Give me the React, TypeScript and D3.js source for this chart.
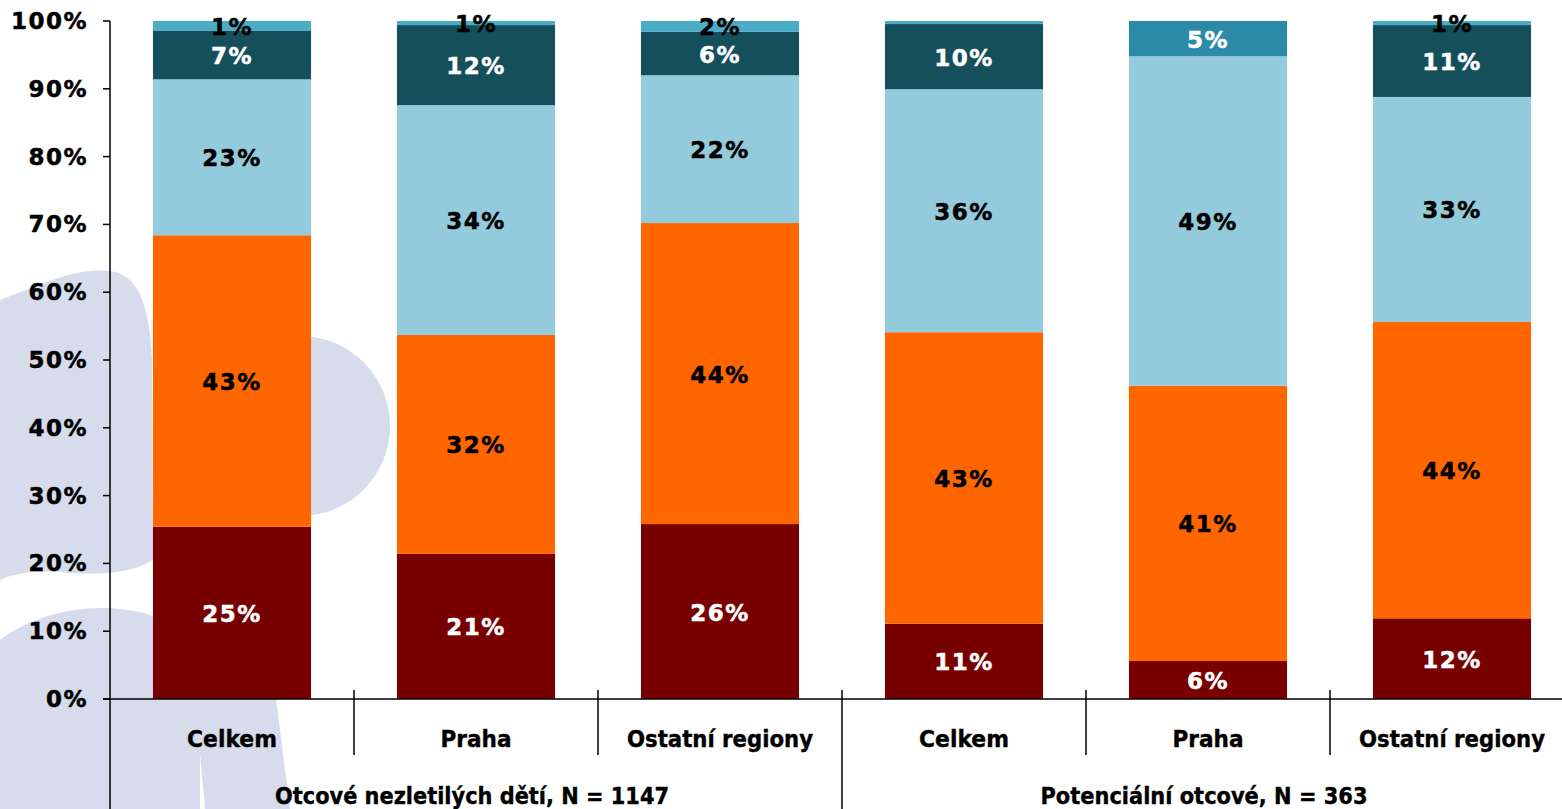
import React from "react";
import * as d3 from "d3";

const categories = ["Celkem", "Praha", "Ostatní regiony", "Celkem", "Praha", "Ostatní regiony"];
const groups = ["Otcové nezletilých dětí, N = 1147", "Potenciální otcové, N = 363"];
const seriesKeys = ["s1", "s2", "s3", "s4", "s5", "s6"];
const s1 = [25.4, 21.4, 25.8, 11.1, 5.6, 11.9];
const s2 = [43.0, 32.3, 44.4, 43.0, 40.6, 43.7];
const s3 = [23.0, 33.9, 21.8, 35.85, 48.6, 33.2];
const s4 = [7.2, 11.8, 6.4, 9.6, 0, 10.6];
const s5 = [0, 0, 0, 0, 5.2, 0];
const s6 = [1.4, 0.6, 1.6, 0.45, 0, 0.6];
const seriesValues = [s1, s2, s3, s4, s5, s6];
const seriesColors = ["#770000", "#FF6600", "#93CBDC", "#154F5C", "#2B8BA6", "#4BACC6"];
const labelColors = ["#ffffff", "#000000", "#000000", "#ffffff", "#ffffff", "#000000"];
const yTicks = [0, 10, 20, 30, 40, 50, 60, 70, 80, 90, 100];

const W = 1562;
const H = 809;
const FONT = "Verdana, 'DejaVu Sans', sans-serif";

export default function App() {
  const rows = categories.map((c, i) => {
    const r: any = { idx: String(i) };
    seriesKeys.forEach((k, j) => (r[k] = seriesValues[j][i]));
    return r;
  });
  const stacked = d3.stack().keys(seriesKeys)(rows);
  const x = d3
    .scaleBand<string>()
    .domain(categories.map((_, i) => String(i)))
    .range([110, 1574])
    .paddingInner(0.352)
    .paddingOuter(0.176);
  const step = x.step();
  const y = d3.scaleLinear().domain([0, 100]).range([699, 21]);
  const x0 = 110;

  return (
    <svg width={W} height={H} style={{ position: "absolute", left: 0, top: 0, background: "#fff" }}>
      {/* watermark */}
      <g fill="#D6DCEC">
        <path d="M0,300 C40,285 80,265 115,272 C140,278 150,310 152,360 L153,560 C130,575 90,575 60,572 C30,570 10,575 0,580 Z" />
        <circle cx={300} cy={426} r={90} />
        <path d="M0,640 C40,610 100,600 150,615 C185,625 200,660 200,700 L200,809 L0,809 Z" />
        <path d="M190,640 C230,630 260,650 275,690 L290,809 L205,809 Z" />
      </g>
      {stacked.map((layer, si) =>
        layer.map((d, bi) => {
          const v = d[1] - d[0];
          if (v <= 0) return null;
          return (
            <rect
              key={`r${si}-${bi}`}
              x={x(String(bi))}
              y={y(d[1])}
              width={x.bandwidth()}
              height={y(d[0]) - y(d[1])}
              fill={seriesColors[si]}
            />
          );
        })
      )}
      {stacked.map((layer, si) =>
        layer.map((d, bi) => {
          const v = d[1] - d[0];
          const lbl = Math.round(v);
          if (lbl <= 0) return null;
          return (
            <text
              key={`t${si}-${bi}`}
              x={(x(String(bi)) as number) + x.bandwidth() / 2}
              y={(y(d[0]) + y(d[1])) / 2 + 1}
              textAnchor="middle"
              dominantBaseline="central"
              fill={labelColors[si]}
              stroke={labelColors[si]}
              strokeWidth={0.5}
              fontFamily={FONT}
              fontWeight="bold"
              fontSize={23}
              letterSpacing={1.5}
            >
              {lbl}%
            </text>
          );
        })
      )}
      {/* axes */}
      <g stroke="#000" strokeWidth={1.5}>
        <line x1={x0} x2={x0} y1={y(100)} y2={H} />
        <line x1={103} x2={W} y1={y(0)} y2={y(0)} />
        {yTicks.map((t) => (
          <line key={t} x1={103} x2={x0} y1={y(t)} y2={y(t)} />
        ))}
        {[1, 2, 3, 4, 5].map((i) => (
          <line key={i} x1={x0 + step * i} x2={x0 + step * i} y1={690} y2={i === 3 ? H : 755} />
        ))}
      </g>
      {yTicks.map((t) => (
        <text
          key={t}
          x={88}
          y={y(t)}
          textAnchor="end"
          dominantBaseline="central"
          fontFamily={FONT}
          fontWeight="bold"
          fontSize={23}
          letterSpacing={1.5}
          stroke="#000"
          strokeWidth={0.5}
        >
          {t}%
        </text>
      ))}
      {categories.map((c, i) => (
        <text
          key={i}
          x={(x(String(i)) as number) + x.bandwidth() / 2}
          y={747}
          textAnchor="middle"
          fontFamily={FONT}
          fontWeight="bold"
          fontSize={23}
          stroke="#000"
          strokeWidth={0.4}
          textLength={c.length > 10 ? 186 : c === "Praha" ? 71 : 90}
          lengthAdjust="spacingAndGlyphs"
        >
          {c}
        </text>
      ))}
      {groups.map((g, i) => (
        <text
          key={g}
          x={x0 + step * 3 * i + step * 1.5 - 4}
          y={804}
          textAnchor="middle"
          fontFamily={FONT}
          fontWeight="bold"
          fontSize={23}
          stroke="#000"
          strokeWidth={0.4}
          textLength={i === 0 ? 394 : 327}
          lengthAdjust="spacingAndGlyphs"
        >
          {g}
        </text>
      ))}
    </svg>
  );
}
